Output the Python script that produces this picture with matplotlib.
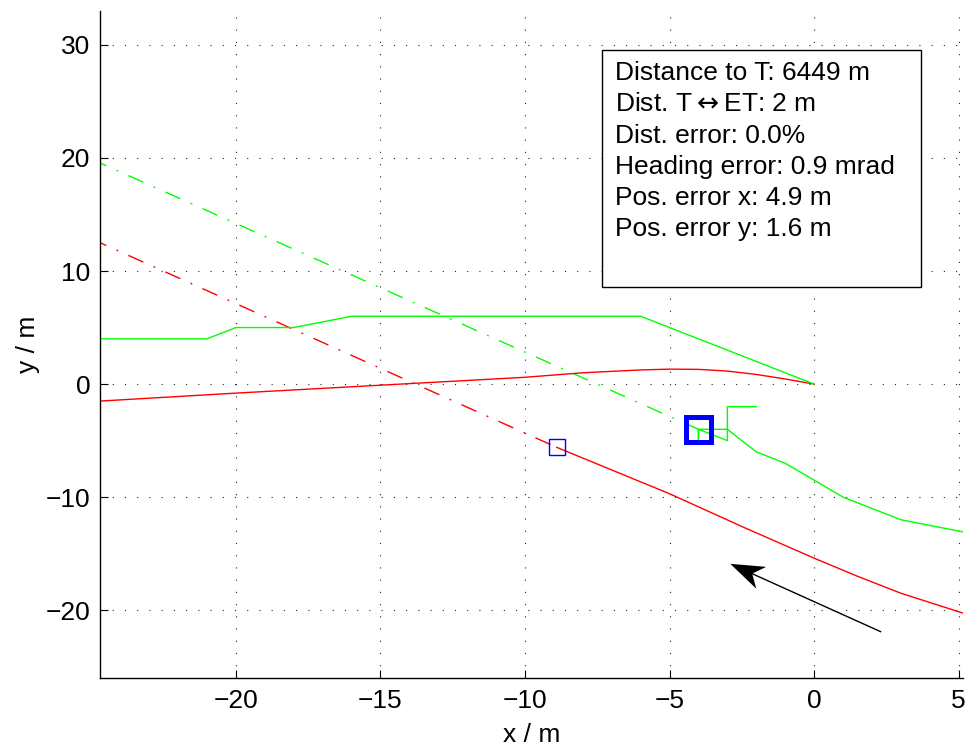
import matplotlib
matplotlib.use("Agg")
import matplotlib.pyplot as plt
import matplotlib.patches as patches
import numpy as np

plt.rcParams['font.family'] = ['Liberation Sans', 'DejaVu Sans']

# --- Data ---
# target track (red, solid) before the turn
red_top_x = [-25.0, -20.0, -15.0, -10.0, -8.0, -6.0, -5.0, -4.0, -3.0, -2.0, -1.0, 0.0]
red_top_y = [-1.55, -0.8, -0.1, 0.6, 1.0, 1.25, 1.32, 1.3, 1.15, 0.85, 0.45, 0.0]

# target track (red, solid) after the marker
red_low_x = [-8.9, -7.0, -5.0, -2.5, 0.0, 1.5, 3.0, 5.2]
red_low_y = [-5.6, -7.6, -9.7, -12.6, -15.4, -17.0, -18.5, -20.3]

# extrapolated target heading (red, dash-dot)
red_ext_x = [-25.0, -8.9]
red_ext_y = [12.85, -5.6]

# estimated track (green, solid)
green_top_x = [-25.0, -21.0, -20.0, -18.0, -16.0, -6.0, 0.0]
green_top_y = [4.0, 4.0, 5.0, 5.0, 6.0, 6.0, 0.0]

green_low_x = [-2.0, -3.0, -3.0, -4.0, -4.0, -4.0, -3.0, -2.0, -1.0, 1.0, 3.0, 7.0]
green_low_y = [-2.0, -2.0, -5.0, -4.0, -5.0, -4.0, -4.0, -6.0, -7.0, -10.0, -12.0, -14.0]

# extrapolated estimated heading (green, dash-dot)
green_ext_x = [-25.0, -4.0]
green_ext_y = [19.9, -4.0]

# markers
target_pos = (-8.9, -5.6)
estimate_pos = (-4.0, -4.0)

# direction arrow (tail -> head)
arrow_tail = (2.3, -21.9)
arrow_head = (-2.9, -15.9)

info_lines = [
    "Distance to T: 6449 m",
    "Dist. T$\\leftrightarrow$ET: 2 m",
    "Dist. error: 0.0%",
    "Heading error: 0.9 mrad",
    "Pos. error x: 4.9 m",
    "Pos. error y: 1.6 m",
]

x_ticks = [-20, -15, -10, -5, 0, 5]
y_ticks = [-20, -10, 0, 10, 20, 30]

# --- Figure ---
fig = plt.figure(figsize=(9.65, 7.47), dpi=100)
ax = fig.add_axes([100 / 965, 69 / 747, 863 / 965, 667 / 747])
ax.set_xlim(-24.7, 5.15)
ax.set_ylim(-26, 33)

dashdot = (0, (11.8, 8, 1.4, 8))
ax.plot(red_ext_x, red_ext_y, color="#ff0000", lw=1.0, linestyle=dashdot)
ax.plot(green_ext_x, green_ext_y, color="#00ff00", lw=1.0, linestyle=dashdot)
ax.plot(red_top_x, red_top_y, color="#ff0000", lw=1.0)
ax.plot(red_low_x, red_low_y, color="#ff0000", lw=1.0)
ax.plot(green_top_x, green_top_y, color="#00ff00", lw=1.0)
ax.plot(green_low_x, green_low_y, color="#00ff00", lw=1.0)

ax.plot(*target_pos, marker="s", ms=11.5, mfc="none", mec="#0000ff", mew=1.0, zorder=4)
ax.plot(*estimate_pos, marker="s", ms=18, mfc="none", mec="#0000ff", mew=3.6, zorder=4)

# arrow with notched head, built in pixel space then mapped back to data
fig.canvas.draw()
p0 = ax.transData.transform(arrow_tail)
p1 = ax.transData.transform(arrow_head)
u = (p1 - p0) / np.hypot(*(p1 - p0))
n = np.array([-u[1], u[0]])
head_px = [p1, p1 - 34 * u + 12 * n, p1 - 24 * u, p1 - 34 * u - 12 * n]
notch = ax.transData.inverted().transform(p1 - 24 * u)
head = ax.transData.inverted().transform(np.array(head_px))
ax.plot([arrow_tail[0], notch[0]], [arrow_tail[1], notch[1]], color="black", lw=1.0)
ax.add_patch(patches.Polygon(head, closed=True, color="black", lw=0))

# info box
box = patches.Rectangle((0.5817, 0.586), 0.3696, 0.3555, transform=ax.transAxes,
                        facecolor="white", edgecolor="black", lw=1.0, zorder=5)
ax.add_patch(box)
for i, line in enumerate(info_lines):
    ax.text(0.5968, 0.8966 - i * 0.0469, line, transform=ax.transAxes,
            fontsize=19, va="baseline", ha="left", zorder=6)

# axes styling (MATLAB-like)
ax.set_xticks(x_ticks)
ax.set_yticks(y_ticks)
ax.set_xticklabels([f"\u2212{-t}" if t < 0 else str(t) for t in x_ticks])
ax.set_yticklabels([f"\u2212{-t}" if t < 0 else str(t) for t in y_ticks])
ax.tick_params(direction="in", length=6, width=0.8, labelsize=19)
ax.tick_params(axis="x", pad=8)
ax.tick_params(axis="y", pad=7)
ax.spines["top"].set_visible(False)
ax.spines["right"].set_visible(False)
ax.spines["left"].set_linewidth(1.0)
ax.spines["bottom"].set_linewidth(1.0)
ax.grid(True, color="0.15", linestyle=(0, (1, 10)), lw=0.8)
ax.set_axisbelow(True)

ax.set_xlabel("x / m", fontsize=19, labelpad=7)
ax.set_ylabel("y / m", fontsize=19, labelpad=4)

fig.savefig("out.png", dpi=100)
